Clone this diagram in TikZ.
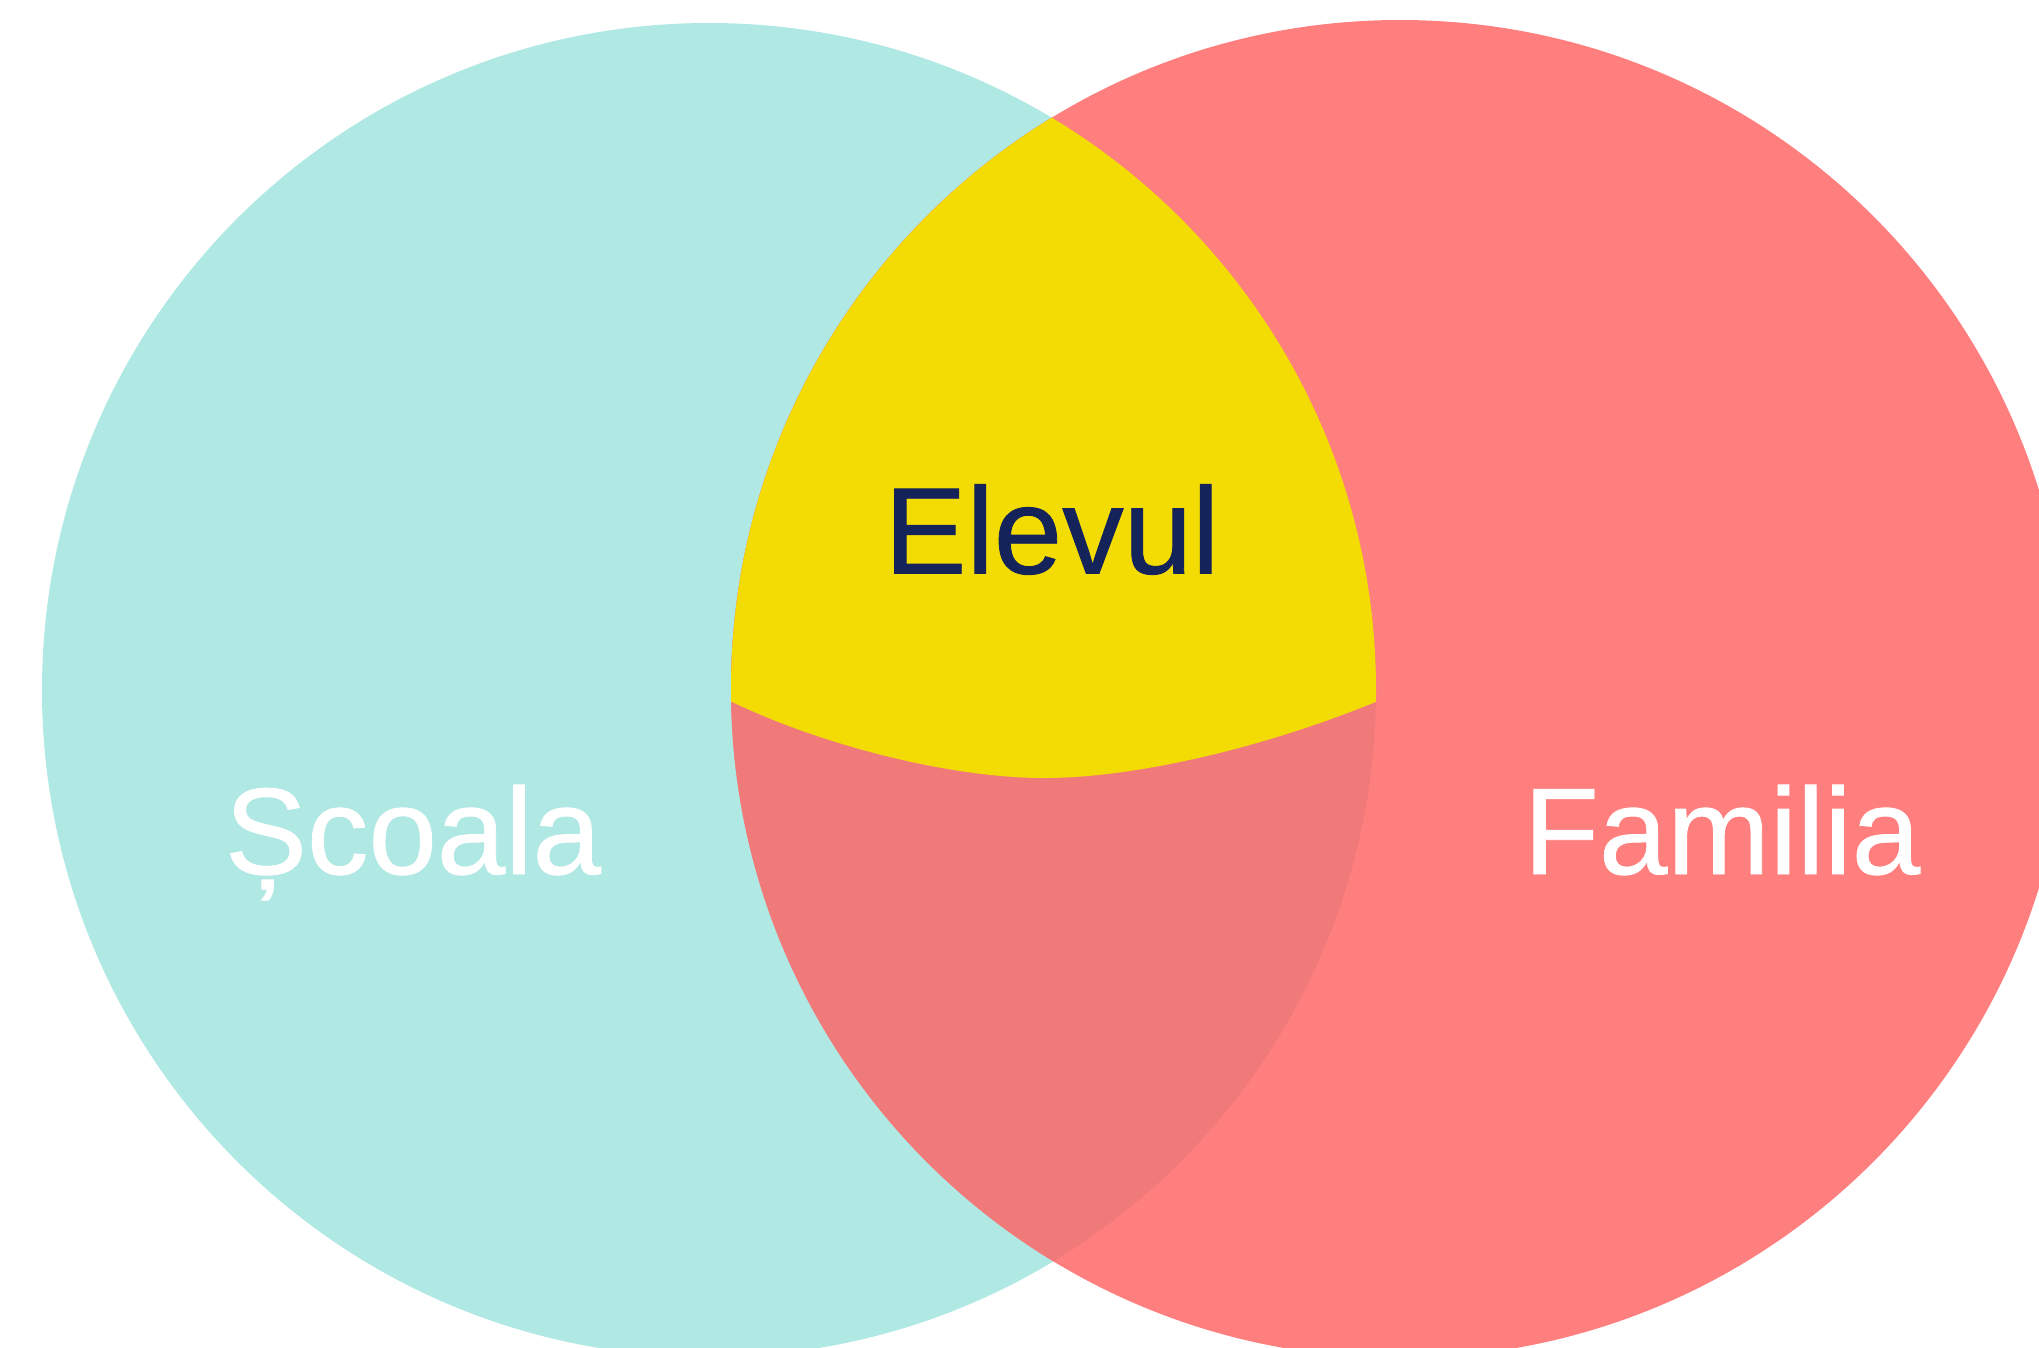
\documentclass[tikz,border=0pt]{standalone}
\usepackage{fontspec}
\setmainfont{Liberation Sans}
\newfontfamily\labfont[FakeBold=0.7]{Liberation Sans}
\definecolor{schoolcol}{HTML}{B0E8E4}
\definecolor{familycol}{HTML}{FF7F7E}
\definecolor{lenscol}{HTML}{F07A79}
\definecolor{elevcol}{HTML}{F3DC04}
\definecolor{elevtext}{HTML}{14235A}
\begin{document}
\begin{tikzpicture}[x=1pt,y=-1pt,
  lab/.style={font=\labfont\fontsize{123}{123}\selectfont, inner sep=0pt, anchor=base}]
\useasboundingbox (0,0) rectangle (2039,1347);
\clip (0,0) rectangle (2039,1347);
\coordinate (cl) at (709,690);
\coordinate (cr) at (1400,689);
\fill[schoolcol] (cl) circle[radius=667pt];
\fill[familycol] (cr) circle[radius=669pt];
\begin{scope}
  \clip (cl) circle[radius=667pt];
  \fill[lenscol] (cr) circle[radius=669pt];
  \clip (cr) circle[radius=669pt];
  \fill[elevcol] (700,686) -- (728,700)
    .. controls (820,745) and (950,778) .. (1044,778)
    .. controls (1140,778) and (1270,745) .. (1373,703)
    -- (1400,692) -- (1400,0) -- (700,0) -- cycle;
\end{scope}
\node[lab, text=elevtext] (elevul) at (1052,573.5) {Elevul};
\node[lab, text=white] (scoala) at (413,874) {Școala};
\node[lab, text=white] (familia) at (1722,874) {Familia};
\end{tikzpicture}
\end{document}
